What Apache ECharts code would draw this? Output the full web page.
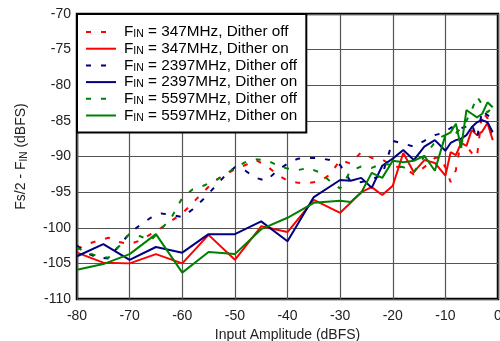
<!DOCTYPE html>
<html>
<head>
<meta charset="utf-8">
<script src="https://cdn.jsdelivr.net/npm/echarts@6/dist/echarts.min.js"></script>
<style>
  html, body { margin: 0; padding: 0; background: #fff; }
  #chart { width: 500px; height: 341px; }
</style>
</head>
<body>
<div id="chart"></div>
<script>
// x positions (dBFS) for dither-on and dither-off sweeps
const xOn = [-80, -75, -70, -65, -60, -55, -50, -45, -40, -35, -30, -28, -26, -24, -22, -20,
  -18, -16, -14, -12, -10, -9, -8, -7, -6, -5, -4, -3, -2, -1];
const xOff = [-80, -78, -76, -74, -72, -70, -68, -66, -64, -62, -60, -58, -56, -54, -52, -50,
  -48, -46, -44, -42, -40, -38, -36, -34, -32, -30, -28, -26, -24, -22, -20, -18, -16, -14,
  -12, -11, -10, -9, -8, -7, -6, -5, -4, -3, -2, -1];

const red347Off = [-103, -102.3, -101.8, -101.4, -102, -102.3, -101.8, -100.9, -100, -99, -98,
  -96.5, -95, -93.5, -92.6, -91.8, -91.2, -90.5, -91.3, -92.5, -93.4, -93.7, -93.7, -93.5,
  -92.6, -90.5, -91, -89.4, -90.2, -90.4, -91.4, -91.5, -92.5, -91.5, -90.2, -90.1, -91.5,
  -93.6, -91.9, -87.7, -88.5, -89.5, -90.1, -83.8, -84.6, -87.7];
const red347On = [-103.5, -104.9, -105, -103.7, -105, -101, -104.5, -99.8, -100.6, -96.1,
  -97.9, -96.5, -95, -94.3, -95.4, -94.1, -89.5, -92.2, -90.5, -90.9, -92.7, -89.4, -89.8,
  -88.1, -88.5, -86.3, -87, -86.5, -85.3, -87.7];

const blue2397Off = [-102.5, -103.6, -104.2, -104.3, -102.5, -100.8, -99.6, -98.6, -98, -98.2,
  -98.5, -97.4, -96, -94.4, -92.8, -91.5, -92, -93, -93.4, -92, -91, -90.3, -90.2, -90.2,
  -90.5, -91.2, -93.5, -93.6, -93.2, -92.6, -87.8, -88.2, -88.6, -87.8, -87, -86.8, -86.5,
  -86, -85.6, -86, -85.8, -85.4, -87.5, -83.5, -84.2, -84.6];
const blue2397On = [-104, -102.3, -104.5, -102.7, -103.5, -100.9, -100.9, -99.1, -101.9, -95.7,
  -93.3, -93.4, -93, -94.4, -91.3, -90.3, -89.1, -90.5, -88.6, -87.7, -89.2, -88.1, -87.7,
  -87.5, -87, -85.9, -85.2, -84.9, -85.2, -86.6];

const green5597Off = [-102.8, -103.5, -104, -104.2, -102.6, -100.8, -101.2, -101.8, -100.2,
  -98.5, -95.8, -94.6, -94.1, -93.5, -92.6, -91.6, -90.8, -90.4, -90.5, -91.2, -91.7, -91.9,
  -91.6, -92.2, -93.4, -94.5, -92, -91.4, -91.6, -91, -91.2, -91.5, -92.2, -90, -88, -87.3,
  -87, -86.8, -86.7, -86, -85, -83.5, -81.6, -82.7, -83.8, -83.1];
const green5597On = [-105.9, -105.1, -103.7, -100.9, -106.3, -103.4, -103.7, -100.2, -98.6,
  -96.5, -96.2, -96.4, -95.1, -92.3, -93, -90.6, -90.8, -90.6, -89.9, -92, -87, -86.6, -85.4,
  -88.8, -83.5, -84, -84.5, -84, -82.4, -83.1];

const seriesNames = ['347MHz, Dither off', '347MHz, Dither on', '2397MHz, Dither off',
  '2397MHz, Dither on', '5597MHz, Dither off', '5597MHz, Dither on'];

const RED = '#ff0000';
const BLUE = '#000080';
const GREEN = '#008000';
const FONT = 'Liberation Sans, Arial, sans-serif';

const pair = (xs, ys) => xs.map((x, i) => [x, ys[i]]);

const makeSeries = (name, xs, ys, color, dashed) => ({
  name,
  type: 'line',
  data: pair(xs, ys),
  symbol: 'none',
  animation: false,
  lineStyle: { color, width: 2, type: dashed ? [5, 10] : 'solid' },
  itemStyle: { color },
});

const chart = echarts.init(document.getElementById('chart'), null, { renderer: 'canvas' });

chart.setOption({
  backgroundColor: '#fff',
  textStyle: { fontFamily: FONT },
  grid: {
    left: 77, right: 2, top: 14, bottom: 42,
    outerBoundsMode: 'none',
    show: true, borderColor: '#000', borderWidth: 2.5,
  },
  legend: {
    orient: 'vertical',
    left: 77, top: 14,
    padding: [10, 9, 9, 8],
    backgroundColor: '#fff',
    borderColor: '#000',
    borderWidth: 2,
    itemWidth: 30,
    itemHeight: 10,
    itemGap: 0.7,
    itemStyle: { opacity: 0 },
    data: seriesNames,
    formatter: (name) => `{g|}{a|F}{s|IN}{a| = ${name}}`,
    textStyle: {
      color: '#000',
      rich: {
        g: { width: 3 },
        a: { fontSize: 15.3, fontFamily: FONT, color: '#000', lineHeight: 15 },
        s: { fontSize: 10.5, fontFamily: FONT, color: '#000', padding: [5, 0, 0, 0], lineHeight: 12 },
      },
    },
  },
  xAxis: {
    type: 'value',
    min: -80, max: 0, interval: 10,
    name: 'Input Amplitude (dBFS)',
    nameLocation: 'middle',
    nameGap: 28,
    nameTextStyle: { fontSize: 14, color: '#222', fontFamily: FONT },
    axisLine: { show: false },
    axisTick: { show: false },
    axisLabel: { fontSize: 14, color: '#222', margin: 10, fontFamily: FONT },
    splitLine: { lineStyle: { color: '#555', width: 1.2 } },
  },
  yAxis: {
    type: 'value',
    min: -110, max: -70, interval: 5,
    name: '{a|Fs/2 - F}{s|IN}{a| (dBFS)}',
    nameLocation: 'middle',
    nameGap: 49,
    nameTextStyle: {
      rich: {
        a: { fontSize: 14, color: '#222', fontFamily: FONT, lineHeight: 14 },
        s: { fontSize: 10, color: '#222', fontFamily: FONT, padding: [6, 0, 0, 0], lineHeight: 14 },
      },
    },
    axisLine: { show: false },
    axisTick: { show: false },
    axisLabel: { fontSize: 14, color: '#222', margin: 6, fontFamily: FONT },
    splitLine: { lineStyle: { color: '#555', width: 1.2 } },
  },
  series: [
    makeSeries(seriesNames[0], xOff, red347Off, RED, true),
    makeSeries(seriesNames[1], xOn, red347On, RED, false),
    makeSeries(seriesNames[2], xOff, blue2397Off, BLUE, true),
    makeSeries(seriesNames[3], xOn, blue2397On, BLUE, false),
    makeSeries(seriesNames[4], xOff, green5597Off, GREEN, true),
    makeSeries(seriesNames[5], xOn, green5597On, GREEN, false),
  ],
});
</script>
</body>
</html>
